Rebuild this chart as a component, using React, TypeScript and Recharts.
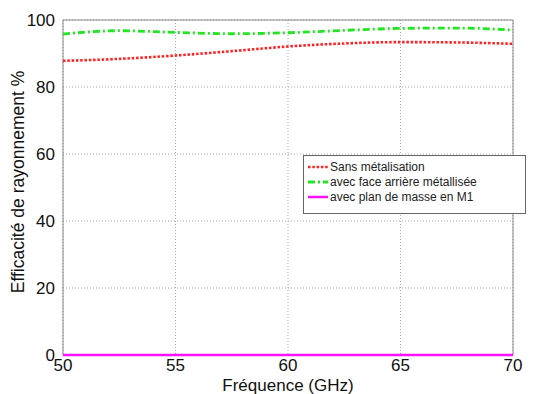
import {
  LineChart,
  Line,
  XAxis,
  YAxis,
  CartesianGrid,
  ReferenceArea,
  Label,
} from "recharts";

// fréquences (GHz)
const freq = [50, 52.5, 55, 57.5, 60, 62.5, 65, 67.5, 70];
const sansMetal = [87.8, 88.4, 89.4, 90.7, 92.1, 93.0, 93.4, 93.3, 92.9];
const faceArriere = [95.8, 96.8, 96.3, 95.9, 96.2, 96.9, 97.5, 97.6, 97.0];
const planMasse = [0, 0, 0, 0, 0, 0, 0, 0, 0];

const xTicks = [50, 55, 60, 65, 70];
const yTicks = [0, 20, 40, 60, 80, 100];

const data = freq.map((f, i) => ({
  f,
  sans: sansMetal[i],
  face: faceArriere[i],
  plan: planMasse[i],
}));

const FONT = "'Liberation Sans', Arial, sans-serif";

const series = [
  { key: "sans", name: "Sans métalisation", color: "#ff2222", dash: "2.5 1.8", width: 2.6 },
  { key: "face", name: "avec face arrière métallisée", color: "#22e622", dash: "7 3 2 3", width: 2.8 },
  { key: "plan", name: "avec plan de masse en M1", color: "#ff10ff", dash: undefined, width: 2.5 },
];

function LegendBox() {
  return (
    <div
      style={{
        position: "absolute",
        left: 303,
        top: 155,
        boxSizing: "border-box",
        width: 223,
        height: 59,
        border: "1px solid #666",
        background: "#fff",
        padding: "3px 0 0 3px",
        fontFamily: FONT,
        fontSize: 12,
        color: "#222",
      }}
    >
      {series.map((s) => (
        <div key={s.key} style={{ display: "flex", alignItems: "center", height: 15 }}>
          <svg width={22} height={6} style={{ marginRight: 1 }}>
            <line
              x1={1}
              y1={3}
              x2={21}
              y2={3}
              stroke={s.color}
              strokeWidth={s.width}
              strokeDasharray={s.dash}
            />
          </svg>
          <span>{s.name}</span>
        </div>
      ))}
    </div>
  );
}

export default function App() {
  return (
    <div style={{ position: "absolute", left: 0, top: 0, width: 537, height: 394, background: "#fff" }}>
      <LineChart
        width={537}
        height={394}
        data={data}
        margin={{ top: 20, right: 24, bottom: 0, left: 0 }}
      >
        <CartesianGrid stroke="#aaa" strokeDasharray="1 2" />
        <XAxis
          dataKey="f"
          type="number"
          domain={[50, 70]}
          ticks={xTicks}
          axisLine={false}
          tickLine={false}
          height={39}
          tickMargin={0}
          tick={{ fontSize: 17, fill: "#111", fontFamily: FONT, dy: -2 }}
        >
          <Label
            value="Fréquence (GHz)"
            position="insideBottom"
            offset={3}
            style={{ fontSize: 17, fill: "#111", fontFamily: FONT }}
          />
        </XAxis>
        <YAxis
          type="number"
          domain={[0, 100]}
          ticks={yTicks}
          axisLine={false}
          tickLine={false}
          width={63}
          tickMargin={2}
          tick={{ fontSize: 17, fill: "#111", fontFamily: FONT }}
        >
          <Label
            content={() => (
              <text
                x={18}
                y={182}
                transform="rotate(-90, 18, 182)"
                textAnchor="middle"
                dominantBaseline="central"
                style={{ fontSize: 17.5, fill: "#111", fontFamily: FONT }}
              >
                Efficacité de rayonnement %
              </text>
            )}
          />
        </YAxis>
        <ReferenceArea
          x1={50}
          x2={70}
          y1={0}
          y2={100}
          fill="none"
          stroke="#888"
          strokeWidth={1}
        />
        {series.map((s) => (
          <Line
            key={s.key}
            type="monotone"
            dataKey={s.key}
            name={s.name}
            stroke={s.color}
            strokeWidth={s.width}
            strokeDasharray={s.dash}
            dot={false}
            isAnimationActive={false}
          />
        ))}
      </LineChart>
      <LegendBox />
    </div>
  );
}
